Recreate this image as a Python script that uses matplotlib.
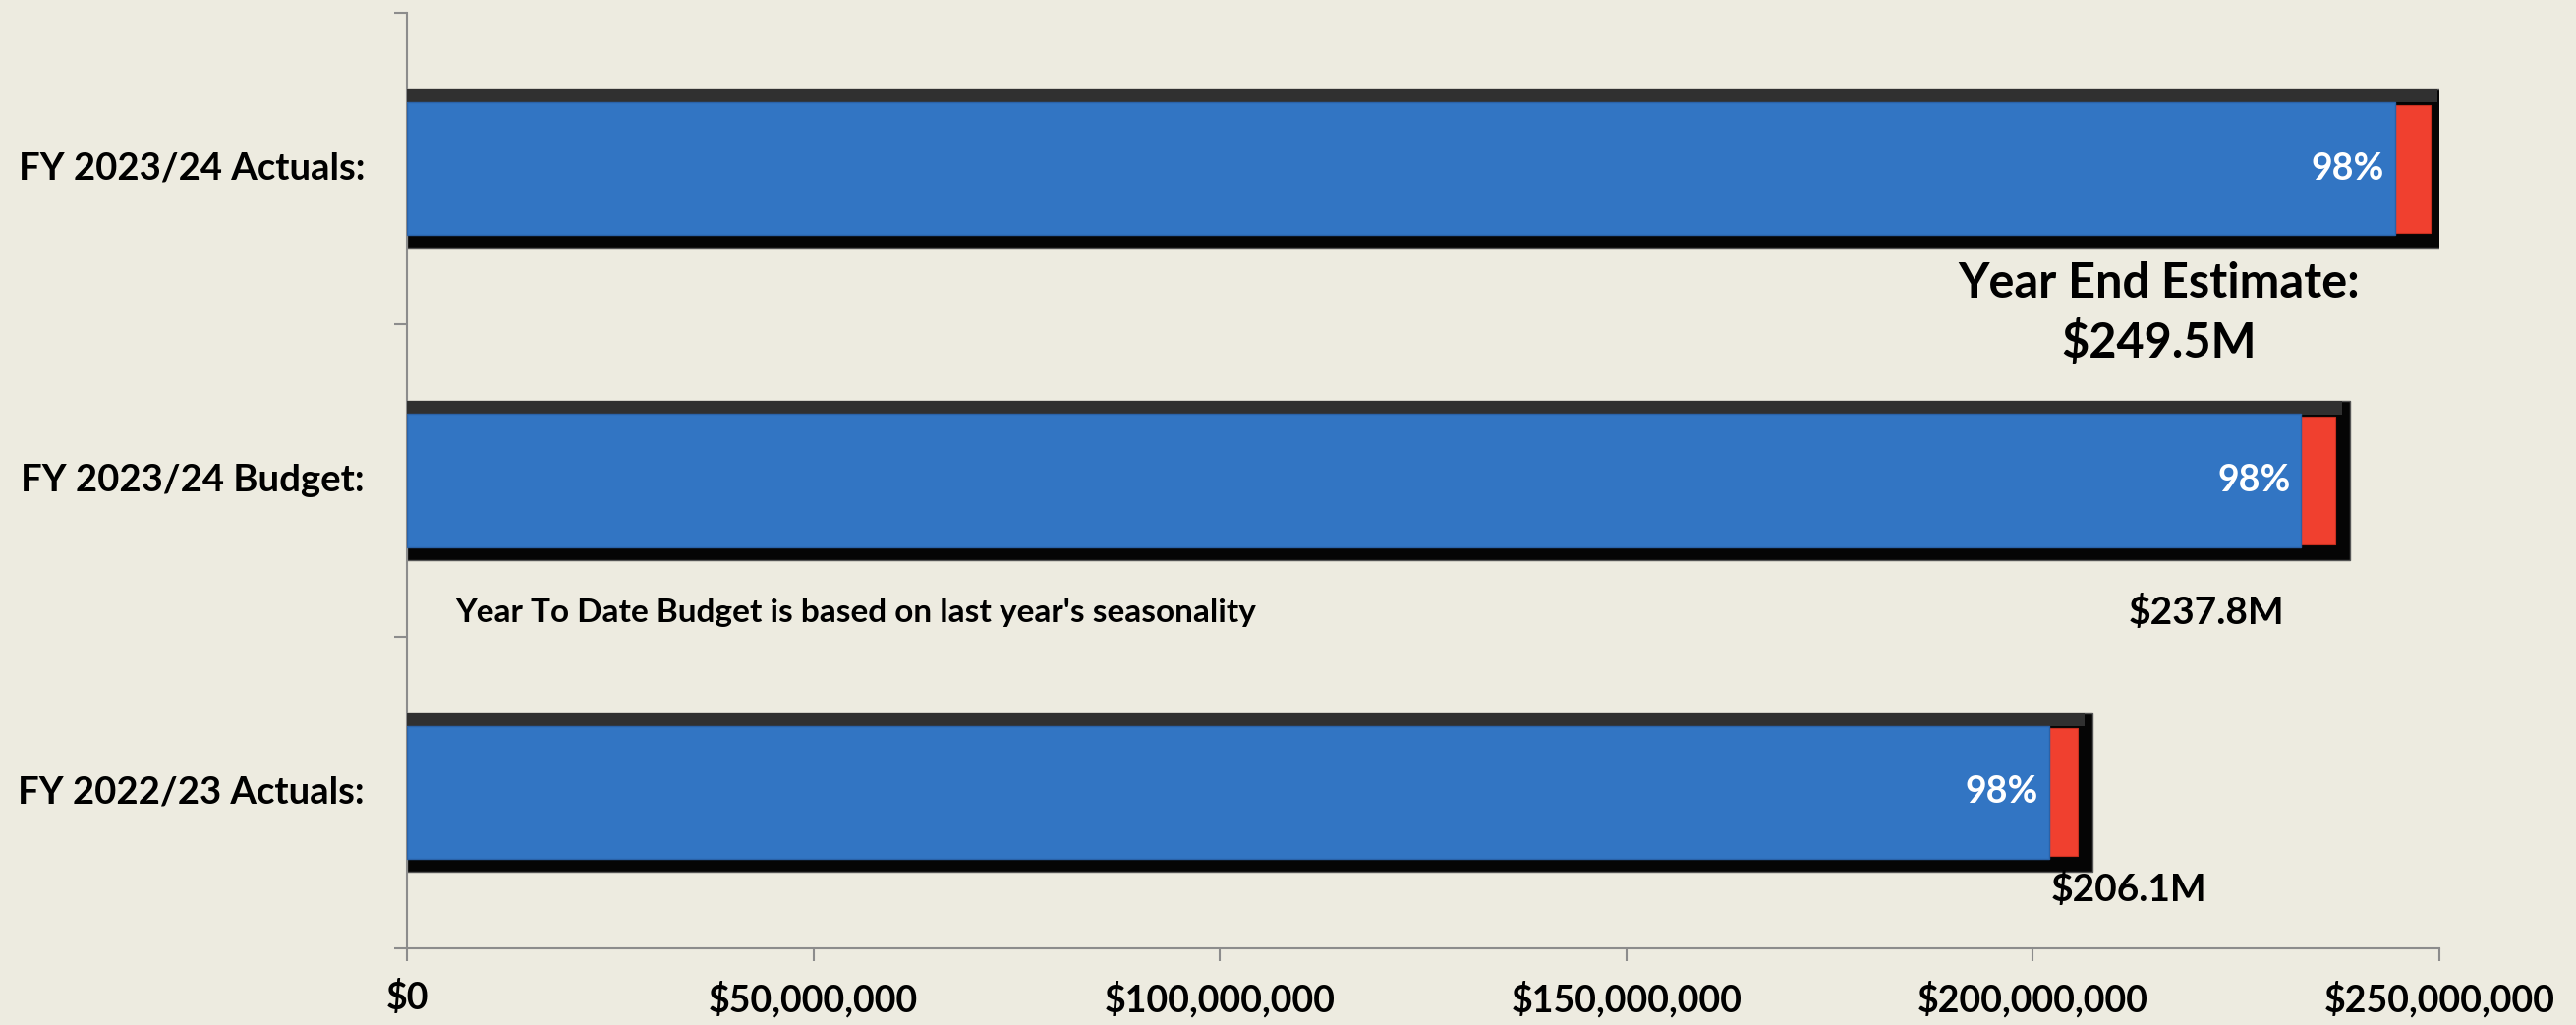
import matplotlib.pyplot as plt
from matplotlib.ticker import FuncFormatter

plt.rcParams['font.family'] = ['Lato', 'DejaVu Sans']

# data (millions of $)
categories = ["FY 2022/23 Actuals:", "FY 2023/24 Budget:", "FY 2023/24 Actuals:"]
totals = [206.1, 237.8, 249.5]
ytd = [202.0, 233.0, 244.5]
pct_labels = ["98%", "98%", "98%"]
total_labels = ["$206.1M", "$237.8M", "Year End Estimate:\n$249.5M"]
xticks = [0, 50, 100, 150, 200, 250]

bg = "#EDEBE0"
blue = "#3275C3"
red = "#F0402F"

fig = plt.figure(figsize=(26.21, 10.43), dpi=100, facecolor=bg)
ax = fig.add_axes([0.158, 0.0748, 0.789, 0.9127], facecolor=bg)

y = list(range(len(categories)))
pad = 1.2  # frame sticks out a little past the total

# black frame bars
ax.barh(y, [t + pad for t in totals], height=0.508, color="#050505",
        edgecolor="#555555", linewidth=1, zorder=2)
# lighter top bevel
ax.barh([v + 0.233 for v in y], [t + pad - 1.0 for t in totals], height=0.042,
        color="#303030", linewidth=0, zorder=3)
# red remainder
ax.barh(y, [t - 0.6 - a for t, a in zip(totals, ytd)], left=ytd, height=0.41,
        color=red, edgecolor="#c83020", linewidth=0.8, zorder=4)
# blue year-to-date
ax.barh(y, ytd, height=0.426, color=blue, edgecolor="#2a62a8", linewidth=1, zorder=5)

for i in y:
    ax.text(ytd[i] - 1.3, i, pct_labels[i], color="white", fontsize=27,
            fontweight="bold", ha="right", va="center", zorder=6)

ax.text(211.8, -0.31, total_labels[0], fontsize=28, fontweight="bold",
        ha="center", va="center")
ax.text(221.3, 0.577, total_labels[1], fontsize=28, fontweight="bold",
        ha="center", va="center")
ax.text(215.5, 1.535, total_labels[2], fontsize=35, fontweight="bold",
        ha="center", va="center", linespacing=1.35)
ax.text(5.9, 0.577, "Year To Date Budget is based on last year's seasonality",
        fontsize=24, fontweight="bold", ha="left", va="center")

ax.set_xlim(0, 250)
ax.set_ylim(-0.5, 2.5)
ax.set_xticks(xticks)
ax.xaxis.set_major_formatter(FuncFormatter(lambda v, p: "${:,.0f}".format(v * 1e6)))
ax.set_yticks([-0.5, 0.5, 1.5, 2.5])
ax.set_yticklabels([])
for i, c in enumerate(categories):
    ax.text(-0.0208, (i + 0.5) / 3, c, transform=ax.transAxes, fontsize=27.5,
            fontweight="bold", ha="right", va="center")

for lbl in ax.get_xticklabels():
    lbl.set_fontweight("bold")
    lbl.set_fontsize(27)
ax.tick_params(axis="both", length=9.4, width=1.5, color="#8c8c8c", direction="out")
ax.tick_params(axis="x", pad=14)
for s in ["top", "right"]:
    ax.spines[s].set_visible(False)
for s in ["left", "bottom"]:
    ax.spines[s].set_color("#8c8c8c")
    ax.spines[s].set_linewidth(1.5)

fig.savefig("out.png", dpi=100, facecolor=bg)
